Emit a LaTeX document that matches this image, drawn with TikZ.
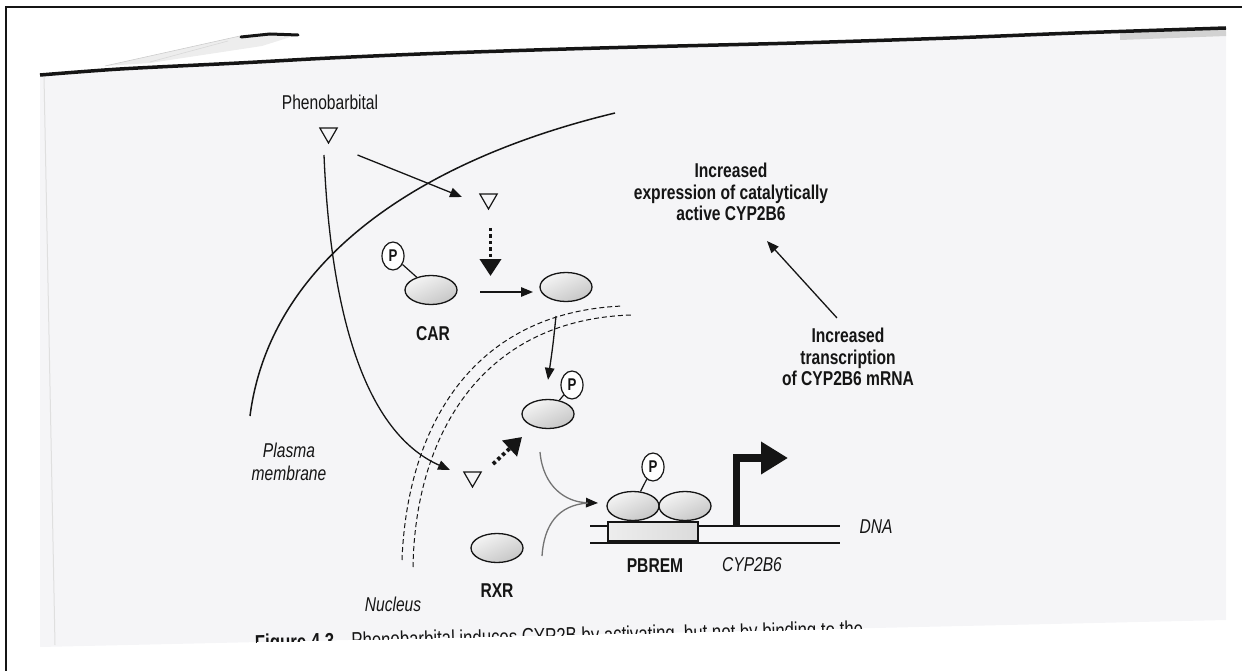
\documentclass[tikz,border=0pt]{standalone}
\usepackage{fontspec}
\setmainfont{Liberation Sans}[FakeStretch=0.78]
\usetikzlibrary{arrows.meta,shapes.geometric}
\definecolor{ink}{HTML}{151515}
\definecolor{paper}{HTML}{F5F5F7}
\begin{document}
\begin{tikzpicture}[x=1pt,y=-1pt,
  txt/.style={inner sep=0pt, text=ink, font=\fontsize{20}{21}\selectfont},
  btxt/.style={txt, font=\fontsize{20}{21.5}\selectfont\bfseries, align=center},
  itxt/.style={txt, font=\fontsize{20}{23}\selectfont\itshape, align=center},
  protein/.style={ellipse, draw=ink, line width=1.3pt, minimum width=52pt,
    minimum height=29pt, inner sep=0pt, top color=gray!8, bottom color=gray!45,
    shading angle=25},
  phos/.style={ellipse, draw=ink, line width=1.2pt, fill=white, minimum width=22pt,
    minimum height=28pt, inner sep=0pt, text=ink, font=\fontsize{17}{17}\selectfont\bfseries},
  drug/.style={regular polygon, regular polygon sides=3, shape border rotate=180,
    draw=ink, line width=1.2pt, minimum size=20pt, inner sep=0pt},
  arr/.style={draw=ink, line width=1.3pt, -{Triangle[length=12pt,width=9.5pt]}},
  dotarr/.style={draw=ink, line width=3.8pt, dash pattern=on 3.4pt off 3pt,
    -{Triangle[length=17pt,width=21pt]}},
  joinarr/.style={draw=black!55, line width=1.3pt, -{Triangle[length=12pt,width=9.5pt,color=ink]}},
  joinline/.style={draw=black!55, line width=1.3pt},
  tssarr/.style={draw=ink, line width=7.5pt, -{Triangle[length=27pt,width=31pt]}},
  envelope/.style={draw=ink, line width=1pt, dash pattern=on 5pt off 3pt},
  dnastrand/.style={draw=ink, line width=1.4pt}
]
\useasboundingbox (0,0) rectangle (1242,671);

% scanned page: tint, torn top edge and side edge
\fill[paper] plot[smooth] coordinates {(40,75) (120,69) (239,63) (330,58) (446,53)
  (600,48) (796,43) (950,38) (1075,33) (1226,28)} -- (1226,620) -- (40,647) -- cycle;
\draw[gray!25, line width=1pt] (44,76) -- (55,645);
\fill[gray!14] (105,66) -- (240,36) -- (300,34) -- (262,46) -- (150,63) -- cycle;
\draw[gray!40, line width=0.6pt] (105,66) -- (240,36);
\draw[gray!30, line width=0.6pt] (150,62) -- (228,41);
\draw[ink, line width=3pt, line cap=round] (241,37) -- (270,34) -- (298,35);
\draw[gray!35, line width=8pt] (1120,36) -- (1226,32);
\draw[ink, line width=3.5pt] plot[smooth] coordinates {(40,75) (120,69) (239,63)
  (330,58) (446,53) (600,48) (796,43) (950,38) (1075,33) (1226,28)};

% frame
\draw[ink, line width=2pt] (6,671) -- (6,7) -- (1242,7);

% plasma membrane and nuclear envelope
\coordinate (pmA) at (250,416);
\coordinate (pmB) at (615,113);
\draw[ink, line width=1.5pt] (pmA) .. controls (270,260) and (420,160) .. (pmB);
\coordinate (neA1) at (402,560);
\coordinate (neB1) at (623,306);
\coordinate (neA2) at (413,567);
\coordinate (neB2) at (631,315);
\draw[envelope] (neA1) .. controls (407,430) and (470,312) .. (neB1);
\draw[envelope] (neA2) .. controls (415,440) and (478,320) .. (neB2);

% labels of compartments
\node[txt] (pb) at (330,102) {Phenobarbital};
\node[itxt] (pmlab) at (289,462) {Plasma\\membrane};
\node[itxt] (nuclab) at (393,604) {Nucleus};

% drug molecules
\node[drug] (t1) at (328.5,133) {};
\node[drug] (t2) at (488.5,199) {};
\node[drug] (t3) at (472.5,477) {};

% receptor proteins
\node[protein] (car) at (431,290) {};
\node[phos] (p1) at (393,256) {P};
\node[btxt] (carlab) at (433,334) {CAR};
\node[protein] (e2) at (566,287) {};
\node[protein] (e3) at (548,414) {};
\node[phos] (p2) at (572,385) {P};
\node[protein] (rxr) at (497,548) {};
\node[btxt] (rxrlab) at (497,591) {RXR};
\node[protein] (d1) at (633,506) {};
\node[protein] (d2) at (685,506) {};
\node[phos] (p3) at (653,467) {P};

\draw[ink, line width=1.2pt] (p1) -- (car);
\draw[ink, line width=1.2pt] (p2) -- (e3);
\draw[ink, line width=1.2pt] (p3) -- (d1);

% DNA with response element and start of transcription
\coordinate (dnaTL) at (590,526);
\coordinate (dnaTR) at (840,526);
\coordinate (dnaBL) at (590,543);
\coordinate (dnaBR) at (840,543);
\node[draw=ink, line width=1.2pt, left color=gray!14, right color=gray!28,
  minimum width=90pt, minimum height=19pt, inner sep=0pt] (pbrem) at (653,531.5) {};
\draw[dnastrand] (dnaTL) -- (pbrem.north west |- dnaTL);
\draw[dnastrand] (pbrem.north east |- dnaTR) -- (dnaTR);
\draw[dnastrand] (dnaBL) -- (dnaBR);
\coordinate (tss) at (736.5,526);
\coordinate (tssTip) at (788,458);
\draw[tssarr] (tss) |- (tssTip);
\node[btxt] (pbremlab) at (655,566) {PBREM};
\node[itxt] (genelab) at (752,565) {CYP2B6};
\node[itxt] (dnalab) at (876,527) {DNA};

% outcome texts
\node[btxt] (b1) at (731,192) {Increased\\expression of catalytically\\active CYP2B6};
\node[btxt] (b2) at (848,357) {Increased\\transcription\\of CYP2B6 mRNA};

% pathway arrows
\draw[arr] ([shift={(29,22)}]t1.center) -- ([shift={(-26.5,-2)}]t2.center);
\draw[arr] ([shift={(-4.5,22)}]t1.center) .. controls (330,300) and (360,430)
  .. ([shift={(-22.5,-7)}]t3.center);
\draw[dotarr] ([shift={(2,29)}]t2.center) -- ([shift={(2,77)}]t2.center);
\draw[arr] ([shift={(49,2)}]car.center) -- ([shift={(-33,5)}]e2.center);
\coordinate (nIn) at (556,316);
\draw[arr] (nIn) .. controls (553,345) .. ([yshift=19pt]e3.north);
\draw[dotarr] ([shift={(20.5,-13)}]t3.center) -- ([shift={(49.5,-40)}]t3.center);
\draw[joinarr] ([shift={(-8,38)}]e3.center) .. controls (543,487) and (566,502)
  .. ([shift={(-35,-3)}]d1.center);
\draw[joinline] ([shift={(45,8)}]rxr.center) .. controls (544,525) and (558,505)
  .. ([shift={(-45,-3)}]d1.center);
\draw[arr] ([shift={(-11,-10)}]b2.north) -- ([shift={(36,20)}]b1.south);

% figure caption, cut by the lower edge of the scan
\begin{scope}
  \clip (40,0) -- (1230,0) -- (1230,619.9) -- (40,646.9) -- cycle;
  \node[txt, font=\fontsize{21.5}{21.5}\selectfont, anchor=base west, rotate=1.3] (caption)
    at (255,650) {\textbf{Figure 4.3}\hspace{0.8em}Phenobarbital induces CYP2B by activating, but not by binding to the};
\end{scope}
\end{tikzpicture}
\end{document}
